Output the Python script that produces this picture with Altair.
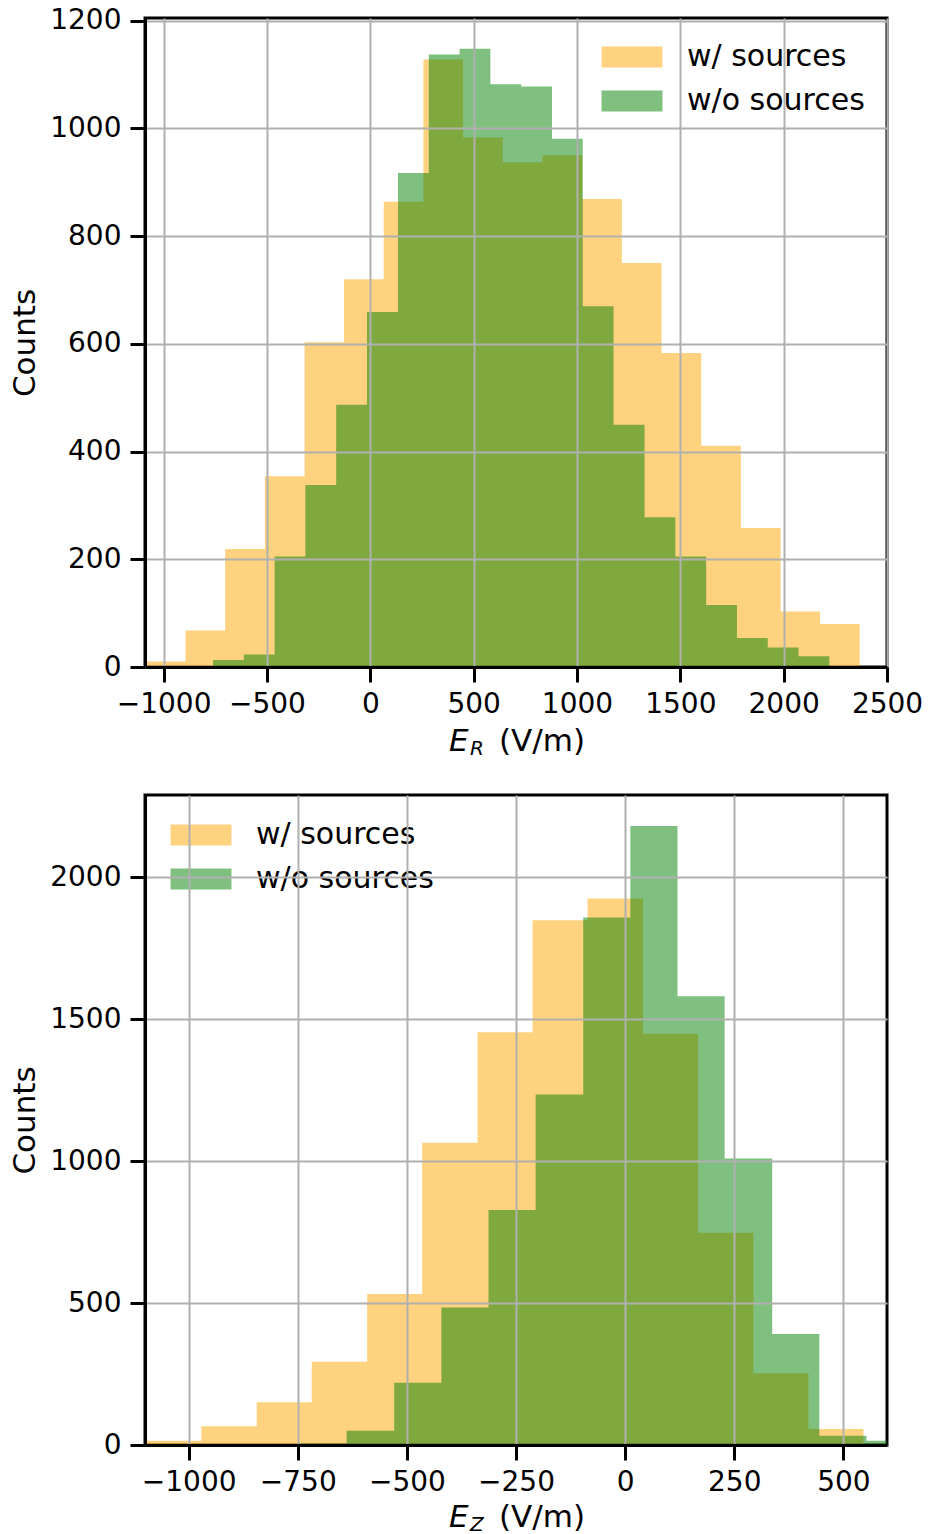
import altair as alt
import pandas as pd

FONT = "DejaVu Sans"
SERIES = ["w/ sources", "w/o sources"]
COLORS = ["orange", "green"]

# ---- Top panel: E_R histograms (bin edges and counts)
er_with_edges = [-1086, -894, -702, -510, -318, -127, 65, 257, 449, 641, 833,
                 1025, 1217, 1409, 1601, 1793, 1985, 2176, 2368]
er_with_counts = [10, 68, 219, 354, 603, 720, 864, 1128, 983, 937, 950,
                  869, 750, 583, 411, 258, 103, 80]
er_without_edges = [-761, -612, -463, -314, -165, -16, 134, 283, 432, 581, 730,
                    879, 1028, 1177, 1327, 1476, 1625, 1774, 1923, 2072, 2221]
er_without_counts = [13, 23, 205, 338, 487, 659, 917, 1137, 1148, 1082, 1078,
                     981, 670, 450, 278, 205, 115, 54, 36, 20]

# ---- Bottom panel: E_Z histograms
ez_with_edges = [-1097, -971, -844, -718, -591, -465, -338, -212, -86, 41,
                 167, 294, 420, 546]
ez_with_counts = [15, 66, 151, 293, 532, 1065, 1454, 1849, 1925, 1449, 748, 253, 56]
ez_without_edges = [-746, -638, -529, -421, -313, -205, -96, 12, 120, 228,
                    337, 445, 553, 661]
ez_without_counts = [5, 50, 219, 484, 828, 1235, 1858, 2181, 1581, 1009, 391, 33, 15]

er_xticks = [-1000, -500, 0, 500, 1000, 1500, 2000, 2500]
er_yticks = [0, 200, 400, 600, 800, 1000, 1200]
ez_xticks = [-1000, -750, -500, -250, 0, 250, 500]
ez_yticks = [0, 500, 1000, 1500, 2000]


def hist_steps(edges, counts, name):
    # one step-after vertex per bin edge; the last edge closes the final bin
    rows = [{"x": edges[i], "count": counts[i], "series": name} for i in range(len(counts))]
    rows.append({"x": edges[-1], "count": counts[-1], "series": name})
    return rows


def panel(rows, xdom, xticks, ydom, yticks, sub, lx, ly, w, h, title_y):
    df = pd.DataFrame(rows)
    axis_common = dict(
        grid=True, gridColor="#b0b0b0", gridWidth=2, gridOpacity=1,
        domain=True, domainColor="black", domainWidth=3,
        ticks=True, tickColor="black", tickWidth=3, tickSize=15,
        labelFont=FONT, labelFontSize=28, labelColor="black",
        labelOverlap=False, labelFlush=False, zindex=1,
    )
    bars = alt.Chart(df).mark_area(opacity=0.5, clip=True, interpolate="step-after").encode(
        x=alt.X("x:Q", scale=alt.Scale(domain=xdom, nice=False, zero=False),
                axis=alt.Axis(values=xticks, title=None, format="d", labelPadding=8,
                              **axis_common)),
        y=alt.Y("count:Q", stack=None, scale=alt.Scale(domain=ydom, nice=False),
                axis=alt.Axis(values=yticks, title="Counts", format="d", labelPadding=9,
                              titleFont=FONT, titleFontSize=31, titleFontWeight="normal",
                              titleColor="black", titlePadding=8, **axis_common)),
        y2=alt.datum(0),
        color=alt.Color("series:N", scale=alt.Scale(domain=SERIES, range=COLORS),
                        legend=alt.Legend(title=None, orient="none", legendX=lx, legendY=ly,
                                          symbolType="M-2.9,-1L2.9,-1L2.9,1L-2.9,1Z",
                                          symbolSize=441, symbolOpacity=0.5,
                                          symbolStrokeWidth=0, labelFont=FONT,
                                          labelFontSize=30, labelColor="black",
                                          labelLimit=400,
                                          labelOffset=40, rowPadding=14, padding=0)),
        order=alt.Order("series:N"),
    )
    one = alt.Data(values=[{"k": 0}])
    t_e = alt.Chart(one).mark_text(text="E", font=FONT, fontStyle="italic", fontSize=31,
                                   align="left", baseline="alphabetic", color="black").encode(
        x=alt.value(304), y=alt.value(title_y))
    t_s = alt.Chart(one).mark_text(text=sub, font=FONT, fontStyle="italic", fontSize=20,
                                   align="left", baseline="alphabetic", color="black").encode(
        x=alt.value(325), y=alt.value(title_y + 4))
    t_u = alt.Chart(one).mark_text(text="(V/m)", font=FONT, fontSize=31,
                                   align="left", baseline="alphabetic", color="black").encode(
        x=alt.value(354), y=alt.value(title_y))
    return alt.layer(bars, t_e, t_s, t_u).properties(width=w, height=h)


top = panel(hist_steps(er_with_edges, er_with_counts, SERIES[0])
            + hist_steps(er_without_edges, er_without_counts, SERIES[1]),
            [-1090, 2500], er_xticks, [0, 1205], er_yticks, "R",
            472, 24, 742, 649, 733)
bottom = panel(hist_steps(ez_with_edges, ez_with_counts, SERIES[0])
               + hist_steps(ez_without_edges, ez_without_counts, SERIES[1]),
               [-1100, 600], ez_xticks, [0, 2290], ez_yticks, "Z",
               41, 25, 742, 650, 732)

chart = alt.vconcat(top, bottom, spacing=128, bounds="flush").resolve_scale(
    x="independent", y="independent", color="independent"
).resolve_legend(color="independent").properties(
    padding={"left": 0, "top": -3, "right": 0, "bottom": 0}
).configure(font=FONT).configure_view(stroke="black", strokeWidth=3)

chart.save("out.html", embed_options={"renderer": "svg", "actions": False})
